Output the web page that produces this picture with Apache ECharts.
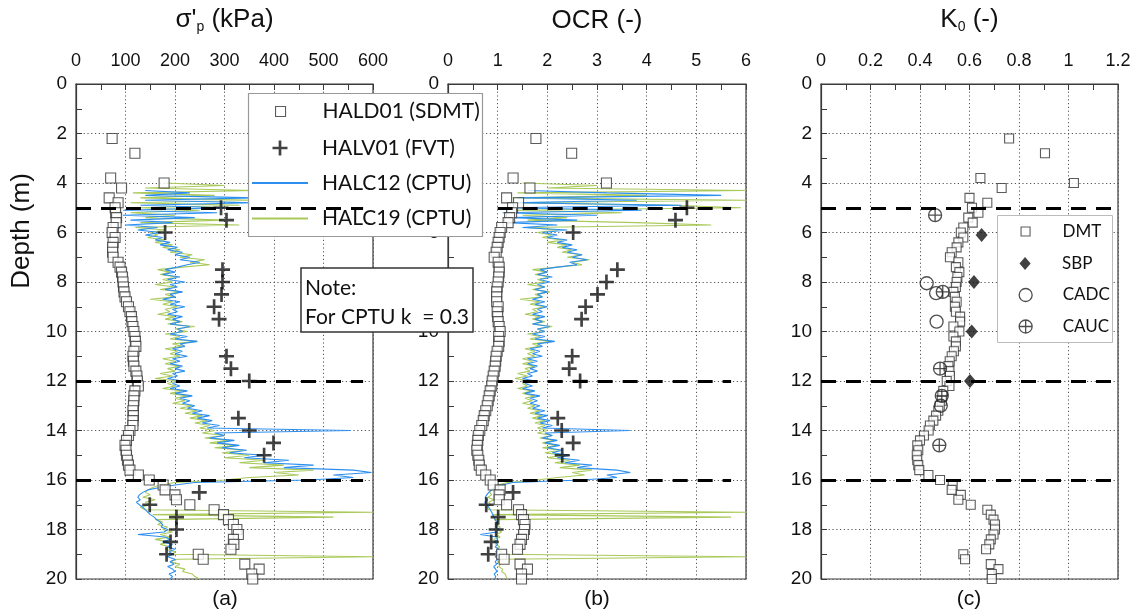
<!DOCTYPE html>
<html>
<head>
<meta charset="utf-8">
<script src="https://cdn.jsdelivr.net/npm/echarts/dist/echarts.min.js"></script>
<style>
  html, body { margin: 0; padding: 0; background: #fff; }
  #chart { width: 1136px; height: 612px; }
</style>
</head>
<body>
<div id="chart"></div>
<script>
// ---- HALD01 seismic dilatometer (SDMT) ----
const dmtDepth = [2.2, 2.8, 3.8, 4.0, 4.2, 4.6, 4.8,
  5.0, 5.2, 5.4, 5.6, 5.8, 6.0, 6.2, 6.4, 6.6, 6.8,
  7.0, 7.2, 7.4, 7.6, 7.8, 8.0, 8.2, 8.4, 8.6, 8.8,
  9.0, 9.2, 9.4, 9.6, 9.8, 10.0, 10.2, 10.4, 10.6, 10.8,
  11.0, 11.2, 11.4, 11.6, 11.8, 12.0, 12.2, 12.4, 12.6, 12.8,
  13.0, 13.2, 13.4, 13.6, 13.8, 14.0, 14.2, 14.4, 14.6, 14.8,
  15.0, 15.2, 15.4, 15.6, 15.8, 16.0, 16.2, 16.4, 16.6, 16.8,
  17.0, 17.2, 17.4, 17.6, 17.8, 18.0, 18.2, 18.4, 18.6, 18.8,
  19.0, 19.2, 19.4, 19.6, 19.8, 20.0];
const dmtSigma = [73, 119, 70, 178, 92, 67, 85,
  79, 80, 82, 81, 75, 73, 79, 75, 74, 74,
  75, 85, 89, 92, 94, 95, 96, 97, 99, 102,
  106, 109, 112, 113, 115, 117, 119, 120, 121, 117,
  115, 116, 117, 121, 123, 124, 126, 119, 117, 117,
  116, 115, 116, 115, 115, 109, 106, 102, 99, 101,
  102, 104, 106, 109, 126, 148, 176, 180, 200, 203,
  230, 279, 298, 308, 318, 325, 328, 318, 319, 313,
  247, 257, 341, 370, 355, 357];
const dmtOcr = [1.77, 2.49, 1.31, 3.19, 1.65, 1.18, 1.42,
  1.30, 1.28, 1.24, 1.21, 1.08, 1.05, 1.03, 1.01, 0.99, 0.97,
  0.93, 1.01, 1.03, 1.03, 1.02, 1.01, 0.99, 0.98, 0.98, 0.98,
  1.01, 0.99, 1.00, 1.01, 1.03, 1.05, 1.02, 1.03, 1.02, 0.99,
  0.97, 0.96, 0.95, 0.93, 0.91, 0.89, 0.88, 0.85, 0.83, 0.81,
  0.79, 0.76, 0.73, 0.71, 0.68, 0.64, 0.61, 0.60, 0.59, 0.58,
  0.60, 0.62, 0.63, 0.67, 0.76, 0.85, 0.91, 1.05, 1.03, 1.03,
  1.18, 1.42, 1.48, 1.52, 1.55, 1.54, 1.52, 1.48, 1.45, 1.40,
  1.08, 1.13, 1.45, 1.60, 1.48, 1.48];
const dmtK0 = [0.76, 0.905, 0.644, 1.022, 0.73, 0.60, 0.672,
  0.61, 0.636, 0.595, 0.613, 0.575, 0.565, 0.575, 0.555, 0.548, 0.528,
  0.521, 0.555, 0.545, 0.559, 0.551, 0.548, 0.545, 0.535, 0.541, 0.548,
  0.541, 0.545, 0.562, 0.562, 0.535, 0.559, 0.535, 0.545, 0.545, 0.537,
  0.528, 0.52, 0.515, 0.519, 0.521, 0.508, 0.519, 0.494, 0.49, 0.488,
  0.48, 0.474, 0.465, 0.454, 0.44, 0.435, 0.416, 0.40, 0.389, 0.393,
  0.387, 0.389, 0.393, 0.397, 0.434, 0.481, 0.532, 0.528, 0.565, 0.555,
  0.605, 0.672, 0.686, 0.697, 0.703, 0.703, 0.697, 0.686, 0.68, 0.667,
  0.575, 0.582, 0.686, 0.717, 0.69, 0.69];

// ---- HALV01 field vane (FVT) ----
const fvtDepth = [5.0, 5.5, 6.0, 7.5, 8.0, 8.5, 9.0, 9.5, 11.0, 11.5, 12.0,
  13.5, 14.0, 14.5, 15.0, 16.5, 17.0, 17.5, 18.0, 18.5, 19.0];
const fvtSigma = [293, 304, 180, 296, 296, 294, 279, 289, 304, 313, 350,
  328, 350, 399, 380, 249, 149, 203, 203, 191, 183];
const fvtOcr = [4.81, 4.58, 2.52, 3.41, 3.19, 3.01, 2.77, 2.69, 2.50, 2.44, 2.66,
  2.21, 2.29, 2.52, 2.30, 1.31, 0.77, 1.01, 0.97, 0.87, 0.81];

// ---- K0 from other methods ----
const sbpDepth = [6.1, 8.0, 10.0, 12.0];
const sbpK0 = [0.649, 0.618, 0.609, 0.602];
const cadcDepth = [8.05, 8.45, 9.6, 13.0];
const cadcK0 = [0.427, 0.465, 0.467, 0.484];
const caucDepth = [5.3, 8.4, 11.5, 12.6, 14.6];
const caucK0 = [0.461, 0.492, 0.481, 0.488, 0.478];

// ---- CPTU profiles, sampled every 0.1 m from 4.0 m to 20.0 m ----
const CPT_TOP = 4.0, CPT_STEP = 0.1;
const halc12Sigma = [
  null, null, null, 140, 230, 140, 360, 140, 360, 130,
  300, 95, 285, 95, 240, 110, 195, 100, 165, 125,
  170, 140, 175, 160, 190, 170, 205, 185, 215, 200,
  230, 210, 250, 225, 205, 180, 200, 175, 210, 185,
  220, 190, 205, 180, 215, 190, 200, 175, 210, 190,
  220, 195, 205, 185, 215, 195, 210, 190, 230, 205,
  215, 190, 225, 200, 245, 210, 220, 195, 215, 200,
  225, 195, 210, 190, 215, 200, 220, 195, 205, 185,
  215, 195, 210, 190, 225, 200, 235, 210, 230, 215,
  240, 225, 255, 235, 270, 245, 275, 255, 290, 265,
  555, 280, 300, 270, 320, 285, 330, 295, 345, 310,
  380, 340, 430, 380, 480, 420, 560, 597, 520, 560,
  470, 240, 200, 170, 145, 135, 128, 125, 130, 122,
  128, 135, 140, 145, 150, 158, 163, 170, 175, 172,
  185, 178, 125, 180, 190, 175, 195, 185, 200, 188,
  195, 185, 200, 190, 198, 185, 195, 200, 188, 195,
  190];
const halc19Sigma = [
  180, 300, 140, 360, 115, 280, 130, 360, 110, 330,
  130, 250, 110, 200, 140, 300, 130, 330, 120, 180,
  150, 165, 145, 180, 160, 195, 175, 210, 190, 235,
  210, 260, 230, 270, 215, 165, 190, 170, 205, 175,
  195, 160, 200, 170, 215, 180, 200, 150, 195, 175,
  205, 180, 190, 165, 200, 180, 215, 185, 240, 200,
  225, 180, 210, 190, 245, 195, 215, 180, 205, 190,
  210, 175, 200, 180, 210, 185, 200, 170, 195, 160,
  205, 185, 200, 175, 215, 190, 225, 200, 220, 195,
  235, 210, 245, 220, 255, 230, 265, 240, 270, 250,
  280, 255, 300, 260, 310, 270, 325, 280, 340, 295,
  350, 300, 380, 330, 420, 350, 480, 400, 450, 350,
  300, 200, 170, 155, 145, 140, 150, 135, 160, 140,
  150, 130, 140, 600, 155, 520, 160, 175, 165, 185,
  175, 195, 170, 190, 160, 185, 170, 190, 180, 200,
  195, 600, 205, 190, 210, 200, 220, 215, 235, 240,
  250];
const halc12Ocr = [
  null, null, null, 1.6, 3.2, 5.5, 1.4, 3.8, 1.3, 4.7,
  1.2, 3.9, 1.1, 3.0, 1.3, 2.6, 1.2, 2.2, 1.5, 2.4,
  1.9, 2.2, 2.0, 2.4, 2.2, 2.5, 2.3, 2.6, 2.4, 2.7,
  2.5, 2.8, 2.45, 2.6, 2.2, 1.85, 2.0, 1.8, 2.1, 1.85,
  2.05, 1.8, 1.95, 1.75, 2.0, 1.8, 1.9, 1.7, 1.95, 1.75,
  2.0, 1.8, 1.9, 1.7, 1.95, 1.75, 1.9, 1.7, 2.05, 1.8,
  1.95, 1.7, 1.95, 1.75, 2.15, 1.8, 1.9, 1.65, 1.85, 1.7,
  1.9, 1.6, 1.8, 1.6, 1.8, 1.65, 1.8, 1.6, 1.7, 1.5,
  1.75, 1.55, 1.7, 1.5, 1.75, 1.55, 1.85, 1.65, 1.8, 1.65,
  1.85, 1.7, 1.95, 1.75, 2.0, 1.8, 2.05, 1.85, 2.1, 1.9,
  3.66, 1.95, 2.1, 1.9, 2.2, 1.95, 2.25, 2.0, 2.3, 2.1,
  2.45, 2.2, 2.65, 2.35, 2.9, 2.6, 3.4, 3.67, 3.2, 3.4,
  2.7, 1.3, 1.1, 0.95, 0.88, 0.82, 0.78, 0.75, 0.8, 0.74,
  0.78, 0.82, 0.85, 0.88, 0.9, 0.93, 0.95, 0.98, 1.0, 0.97,
  1.02, 0.98, 0.65, 0.98, 1.0, 0.93, 1.0, 0.95, 1.02, 0.96,
  1.0, 0.95, 1.0, 0.95, 0.98, 0.92, 0.96, 0.98, 0.93, 0.96,
  0.94];
const halc19Ocr = [
  1.5, 3.0, 2.0, 6.0, 1.4, 4.0, 1.3, 6.0, 1.2, 4.5,
  5.9, 1.3, 3.5, 1.5, 2.4, 1.6, 3.8, 5.3, 1.6, 2.2,
  1.8, 2.1, 1.9, 2.3, 2.0, 2.4, 2.2, 2.5, 2.3, 2.7,
  2.4, 2.85, 2.5, 2.7, 2.2, 1.7, 2.0, 1.75, 2.05, 1.8,
  1.95, 1.6, 1.95, 1.7, 2.05, 1.75, 1.9, 1.45, 1.85, 1.65,
  1.95, 1.7, 1.8, 1.55, 1.85, 1.7, 1.95, 1.7, 2.1, 1.8,
  1.95, 1.6, 1.85, 1.65, 2.1, 1.7, 1.85, 1.55, 1.75, 1.6,
  1.75, 1.5, 1.7, 1.5, 1.75, 1.55, 1.65, 1.4, 1.6, 1.35,
  1.65, 1.5, 1.6, 1.4, 1.7, 1.5, 1.75, 1.55, 1.7, 1.5,
  1.75, 1.6, 1.85, 1.65, 1.9, 1.7, 1.95, 1.75, 1.95, 1.8,
  2.0, 1.8, 2.1, 1.85, 2.15, 1.9, 2.2, 1.9, 2.25, 1.95,
  2.3, 2.0, 2.45, 2.15, 2.65, 2.25, 2.9, 2.5, 2.75, 2.2,
  1.8, 1.2, 1.0, 0.92, 0.86, 0.84, 0.88, 0.8, 0.92, 0.82,
  0.86, 0.78, 0.82, 6.0, 0.9, 5.7, 0.93, 1.0, 0.95, 1.05,
  1.0, 1.08, 0.97, 1.05, 0.92, 1.02, 0.96, 1.04, 1.0, 1.08,
  1.05, 6.0, 1.08, 1.0, 1.06, 1.02, 1.1, 1.08, 1.15, 1.17,
  1.2];

// Layer boundaries (m)
const layerDepths = [5, 12, 16];

// Axis ranges and tick labels per panel
const panelMax = [600, 6, 1.2];
const panelInterval = [100, 1, 0.2];
const panelNames = ["σ'{s|p} (kPa)", 'OCR (-)', 'K{s|0} (-)'];
const panelTags = ['(a)', '(b)', '(c)'];

// ---- styling ----
const FRAME = '#3a3a3a';
const TEXT = '#111';
const BLUE = '#2c8ff0';
const GREEN = '#a9c95a';
const AXIS_FONT = 'Liberation Sans, Arial, sans-serif';
const NOTE_FONT = 'Lato, Open Sans, sans-serif';

const SQUARE_ICON = 'path://M0,0H10V10H0Z';
const LINE_ICON = 'path://M0,0H56V2H0Z';
const CROSS_PATH = 'path://M5.75,0H8.25V5.75H14V8.25H8.25V14H5.75V8.25H0V5.75H5.75Z';
const DIAMOND_PATH = 'path://M6,0L12,7L6,14L0,7Z';
const CIRCLE_PATH = 'path://M0,6A6,6 0 1 1 12,6A6,6 0 1 1 0,6Z';
const OPLUS_PATH = 'path://M0,6A6,6 0 1 1 12,6A6,6 0 1 1 0,6ZM6,0V12M0,6H12';

const grids = [
  { left: 76, right: 763 },
  { left: 448, right: 390 },
  { left: 821, right: 18 }
].map(g => Object.assign({
  top: 84, bottom: 33, show: true, borderColor: FRAME, borderWidth: 1.2,
  backgroundColor: 'transparent', containLabel: false, outerBoundsMode: 'none'
}, g));

const dotted = { type: [1.2, 2.6], color: '#555', width: 1 };

const xAxes = grids.map((g, i) => ({
  gridIndex: i, type: 'value', position: 'top',
  min: 0, max: panelMax[i], interval: panelInterval[i],
  name: panelNames[i], nameLocation: 'middle', nameGap: 50,
  nameTextStyle: {
    fontSize: 26, fontFamily: AXIS_FONT, color: TEXT,
    rich: { s: { fontSize: 14, fontFamily: AXIS_FONT, color: TEXT, padding: [15, 0, 0, 0] } }
  },
  axisLine: { show: true, lineStyle: { color: FRAME, width: 1.2 } },
  axisTick: { show: true, inside: true, length: 6, lineStyle: { color: FRAME } },
  minorTick: { show: true, splitNumber: 2, length: 6, lineStyle: { color: FRAME } },
  axisLabel: { fontSize: 18, fontFamily: AXIS_FONT, color: TEXT, margin: 14, showMinLabel: true, showMaxLabel: true },
  splitLine: { show: true, lineStyle: dotted }
}));

const yAxes = grids.map((g, i) => ({
  gridIndex: i, type: 'value', inverse: true, min: 0, max: 20, interval: 2,
  axisLine: { show: true, lineStyle: { color: FRAME, width: 1.2 } },
  axisTick: { show: true, inside: true, length: 6, lineStyle: { color: FRAME } },
  minorTick: { show: true, splitNumber: 2, length: 6, lineStyle: { color: FRAME } },
  axisLabel: { fontSize: 19, fontFamily: AXIS_FONT, color: TEXT, margin: 9, showMinLabel: true, showMaxLabel: true },
  splitLine: { show: true, lineStyle: dotted }
}));

function pts(values, depths) {
  const out = [];
  values.forEach((v, i) => { if (v !== null) out.push([v, depths[i]]); });
  return out;
}
const cptDepth = halc12Sigma.map((_, i) => +(CPT_TOP + i * CPT_STEP).toFixed(1));

function cptLine(name, values, color, idx) {
  return {
    name, type: 'line', xAxisIndex: idx, yAxisIndex: idx,
    data: pts(values, cptDepth), symbol: 'none', showSymbol: false,
    color, lineStyle: { color, width: 1.1 }, clip: true, z: 2, silent: true
  };
}
function layerMarks(xEnd, xStart) {
  return {
    silent: true, symbol: ['none', 'none'], label: { show: false },
    lineStyle: { color: '#000', width: 3, type: [15, 10], opacity: 1 },
    data: layerDepths.map(d => [{ coord: [xStart, d] }, { coord: [xEnd, d] }])
  };
}
const squareStyle = { color: '#fff', borderColor: '#333', borderWidth: 1.1 };
const hollowStyle = { color: 'rgba(255,255,255,0)', borderColor: '#222', borderWidth: 1.3 };

const series = [
  cptLine('HALC19 (CPTU)', halc19Sigma, GREEN, 0),
  cptLine('HALC12 (CPTU)', halc12Sigma, BLUE, 0),
  cptLine('HALC19 (CPTU)', halc19Ocr, GREEN, 1),
  cptLine('HALC12 (CPTU)', halc12Ocr, BLUE, 1),
  {
    name: 'HALD01 (SDMT)', type: 'scatter', xAxisIndex: 0, yAxisIndex: 0,
    data: pts(dmtSigma, dmtDepth), symbol: 'rect', symbolSize: 10, itemStyle: squareStyle,
    markLine: layerMarks(580, 0), z: 3
  },
  {
    name: 'HALD01 (SDMT)', type: 'scatter', xAxisIndex: 1, yAxisIndex: 1,
    data: pts(dmtOcr, dmtDepth), symbol: 'rect', symbolSize: 10, itemStyle: squareStyle,
    markLine: layerMarks(5.7, 1.0), z: 3
  },
  {
    name: 'HALV01 (FVT)', type: 'scatter', xAxisIndex: 0, yAxisIndex: 0,
    data: pts(fvtSigma, fvtDepth), symbol: CROSS_PATH, symbolSize: 15, itemStyle: { color: '#111' }, z: 4
  },
  {
    name: 'HALV01 (FVT)', type: 'scatter', xAxisIndex: 1, yAxisIndex: 1,
    data: pts(fvtOcr, fvtDepth), symbol: CROSS_PATH, symbolSize: 15, itemStyle: { color: '#111' }, z: 4
  },
  {
    name: 'DMT', type: 'scatter', xAxisIndex: 2, yAxisIndex: 2,
    data: pts(dmtK0, dmtDepth), symbol: 'rect', symbolSize: 9, itemStyle: squareStyle,
    markLine: layerMarks(1.2, 0), z: 3
  },
  {
    name: 'SBP', type: 'scatter', xAxisIndex: 2, yAxisIndex: 2,
    data: pts(sbpK0, sbpDepth), symbol: DIAMOND_PATH, symbolSize: [12, 14], itemStyle: { color: '#111' }, z: 4
  },
  {
    name: 'CADC', type: 'scatter', xAxisIndex: 2, yAxisIndex: 2,
    data: pts(cadcK0, cadcDepth), symbol: CIRCLE_PATH, symbolSize: 13, itemStyle: hollowStyle, z: 4
  },
  {
    name: 'CAUC', type: 'scatter', xAxisIndex: 2, yAxisIndex: 2,
    data: pts(caucK0, caucDepth), symbol: OPLUS_PATH, symbolSize: 13, itemStyle: hollowStyle, z: 4
  }
];

// One legend component per row so each row sits exactly where it belongs.
function legendRow(name, left, top, w, h, icon, itemStyle, fontSize, pad) {
  return {
    data: [{ name, icon, itemStyle }], left, top, itemWidth: w, itemHeight: h,
    padding: 0, selectedMode: false, z: 10, orient: 'horizontal',
    textStyle: { fontFamily: NOTE_FONT, fontSize, color: TEXT, lineHeight: fontSize + 4, padding: [0, 0, 0, pad] }
  };
}
const legends = [
  legendRow('HALD01 (SDMT)', 275, 99, 56, 10, SQUARE_ICON, squareStyle, 21, 9),
  legendRow('HALV01 (FVT)', 272.5, 135.5, 56, 15, CROSS_PATH, { color: '#111' }, 21, 9),
  legendRow('HALC12 (CPTU)', 252, 170.5, 56, 10, LINE_ICON, { color: BLUE }, 21, 9),
  legendRow('HALC19 (CPTU)', 252, 206, 56, 10, LINE_ICON, { color: GREEN }, 21, 9),
  legendRow('DMT', 1020.5, 221, 20, 9, SQUARE_ICON, squareStyle, 17, 22),
  legendRow('SBP', 1019.5, 253, 20, 13, DIAMOND_PATH, { color: '#111' }, 17, 22),
  legendRow('CADC', 1018.5, 284.5, 20, 13, CIRCLE_PATH, hollowStyle, 17, 22),
  legendRow('CAUC', 1018.5, 316, 20, 13, OPLUS_PATH, hollowStyle, 17, 22)
];

const graphic = [
  { type: 'rect', z: 5, shape: { x: 248.5, y: 93.5, width: 234, height: 143 },
    style: { fill: '#fff', stroke: '#999', lineWidth: 1.2 } },
  { type: 'rect', z: 5, shape: { x: 301, y: 268, width: 172, height: 64 },
    style: { fill: '#fff', stroke: '#333', lineWidth: 1.5 } },
  { type: 'text', z: 6, x: 305, y: 288,
    style: { text: 'Note:', font: '21px ' + NOTE_FONT, fill: TEXT, align: 'left', verticalAlign: 'middle', textAlign: 'left', textVerticalAlign: 'middle' } },
  { type: 'text', z: 6, x: 305, y: 317,
    style: { text: 'For CPTU k  = 0.3', font: '21px ' + NOTE_FONT, fill: TEXT, align: 'left', verticalAlign: 'middle', textAlign: 'left', textVerticalAlign: 'middle' } },
  { type: 'rect', z: 5, shape: { x: 997.5, y: 215.5, width: 115, height: 127 },
    style: { fill: '#fff', stroke: '#bbb', lineWidth: 1 } },
  { type: 'text', z: 6, x: 22, y: 231, rotation: Math.PI / 2,
    style: { text: 'Depth (m)', font: '26px ' + AXIS_FONT, fill: TEXT, align: 'center', verticalAlign: 'middle', textAlign: 'center', textVerticalAlign: 'middle' } }
].concat(panelTags.map((t, i) => ({
  type: 'text', z: 6, x: [225, 597, 969][i], y: 599,
  style: { text: t, font: '21px ' + AXIS_FONT, fill: TEXT, align: 'center', verticalAlign: 'middle', textAlign: 'center', textVerticalAlign: 'middle' }
})));

const chart = echarts.init(document.getElementById('chart'), null, { renderer: 'canvas' });
chart.setOption({
  animation: false,
  backgroundColor: '#fff',
  grid: grids,
  xAxis: xAxes,
  yAxis: yAxes,
  legend: legends,
  series,
  graphic
});
</script>
</body>
</html>
